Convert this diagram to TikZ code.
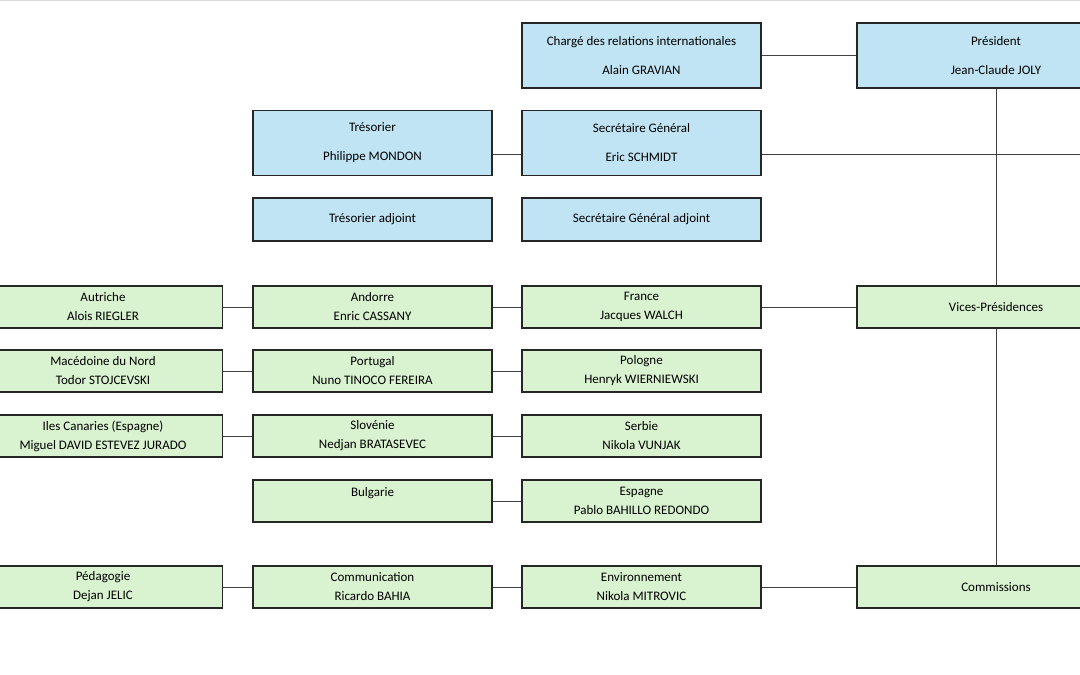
\documentclass[tikz,border=0pt]{standalone}
\usepackage{fontspec}
\setmainfont{Carlito}
\definecolor{bl}{HTML}{C0E4F4}
\definecolor{gr}{HTML}{D9F2D0}
\begin{document}
\begin{tikzpicture}[x=1pt,y=-1pt,
 box/.style={draw=black!85,line width=1.4pt,minimum width=239pt,align=center,font=\fontsize{13}{15}\selectfont,inner sep=0pt},
 tall/.style={box,fill=bl,minimum height=65pt},
 sm/.style={box,fill=bl,minimum height=43pt},
 g/.style={box,fill=gr,minimum height=42pt},
 wide/.style={minimum width=278pt},
 ln/.style={draw=black!75,line width=0.8pt}]
\useasboundingbox (0,0) rectangle (1080,675);
\draw[black!15,line width=1.5pt] (0,0.5) -- (1080,0.5);
\node[tall] (ch) at (641.5,55.5) {Chargé des relations internationales\\[14pt]Alain GRAVIAN};
\node[tall,wide] (pr) at (996,55.5) {Président\\[14pt]Jean-Claude JOLY};
\node[tall] (tr) at (372.5,143) {Trésorier\\[14pt]Philippe MONDON};
\node[tall] (sg) at (641.5,143) {Secrétaire Général\\[14pt]Eric SCHMIDT};
\node[sm] (tra) at (372.5,219.5) {Trésorier adjoint};
\node[sm] (sga) at (641.5,219.5) {Secrétaire Général adjoint};
\foreach \n/\y/\a/\b/\c/\d/\e/\f in {
 r1/307/Autriche/Alois RIEGLER/Andorre/Enric CASSANY/France/Jacques WALCH,
 r2/371/Macédoine du Nord/Todor STOJCEVSKI/Portugal/Nuno TINOCO FEREIRA/Pologne/Henryk WIERNIEWSKI,
 r3/436/Iles Canaries (Espagne)/Miguel DAVID ESTEVEZ JURADO/Slovénie/Nedjan BRATASEVEC/Serbie/Nikola VUNJAK}{
 \node[g] (\n a) at (103,\y) {\a\\[4pt]\b};
 \node[g] (\n b) at (372.5,\y) {\c\\[4pt]\d};
 \node[g] (\n c) at (641.5,\y) {\e\\[4pt]\f};
 \draw[ln] (\n a.east) -- (\n b.west) (\n b.east) -- (\n c.west);
}
\node[g] (bu) at (372.5,501) {Bulgarie\\[4pt]\phantom{X}};
\node[g] (es) at (641.5,501) {Espagne\\[4pt]Pablo BAHILLO REDONDO};
\node[g] (pe) at (103,587) {Pédagogie\\[4pt]Dejan JELIC};
\node[g] (co) at (372.5,587) {Communication\\[4pt]Ricardo BAHIA};
\node[g] (en) at (641.5,587) {Environnement\\[4pt]Nikola MITROVIC};
\node[g,wide] (cm) at (996,587) {Commissions};
\node[g,wide] (vp) at (996,307) {Vices-Présidences};
\coordinate (e1) at (1080,154);
\draw[ln] (ch.east) -- (pr.west);
\draw[ln] (tr.east |- 0,154) -- (sg.west |- 0,154);
\draw[ln] (sg.east |- e1) -- (e1);
\draw[ln] (pr.south) -- (vp.north) (vp.south) -- (cm.north);
\draw[ln] (r1c.east) -- (vp.west);
\draw[ln] (bu.east) -- (es.west);
\draw[ln] (pe.east) -- (co.west) (co.east) -- (en.west) (en.east) -- (cm.west);
\end{tikzpicture}
\end{document}
